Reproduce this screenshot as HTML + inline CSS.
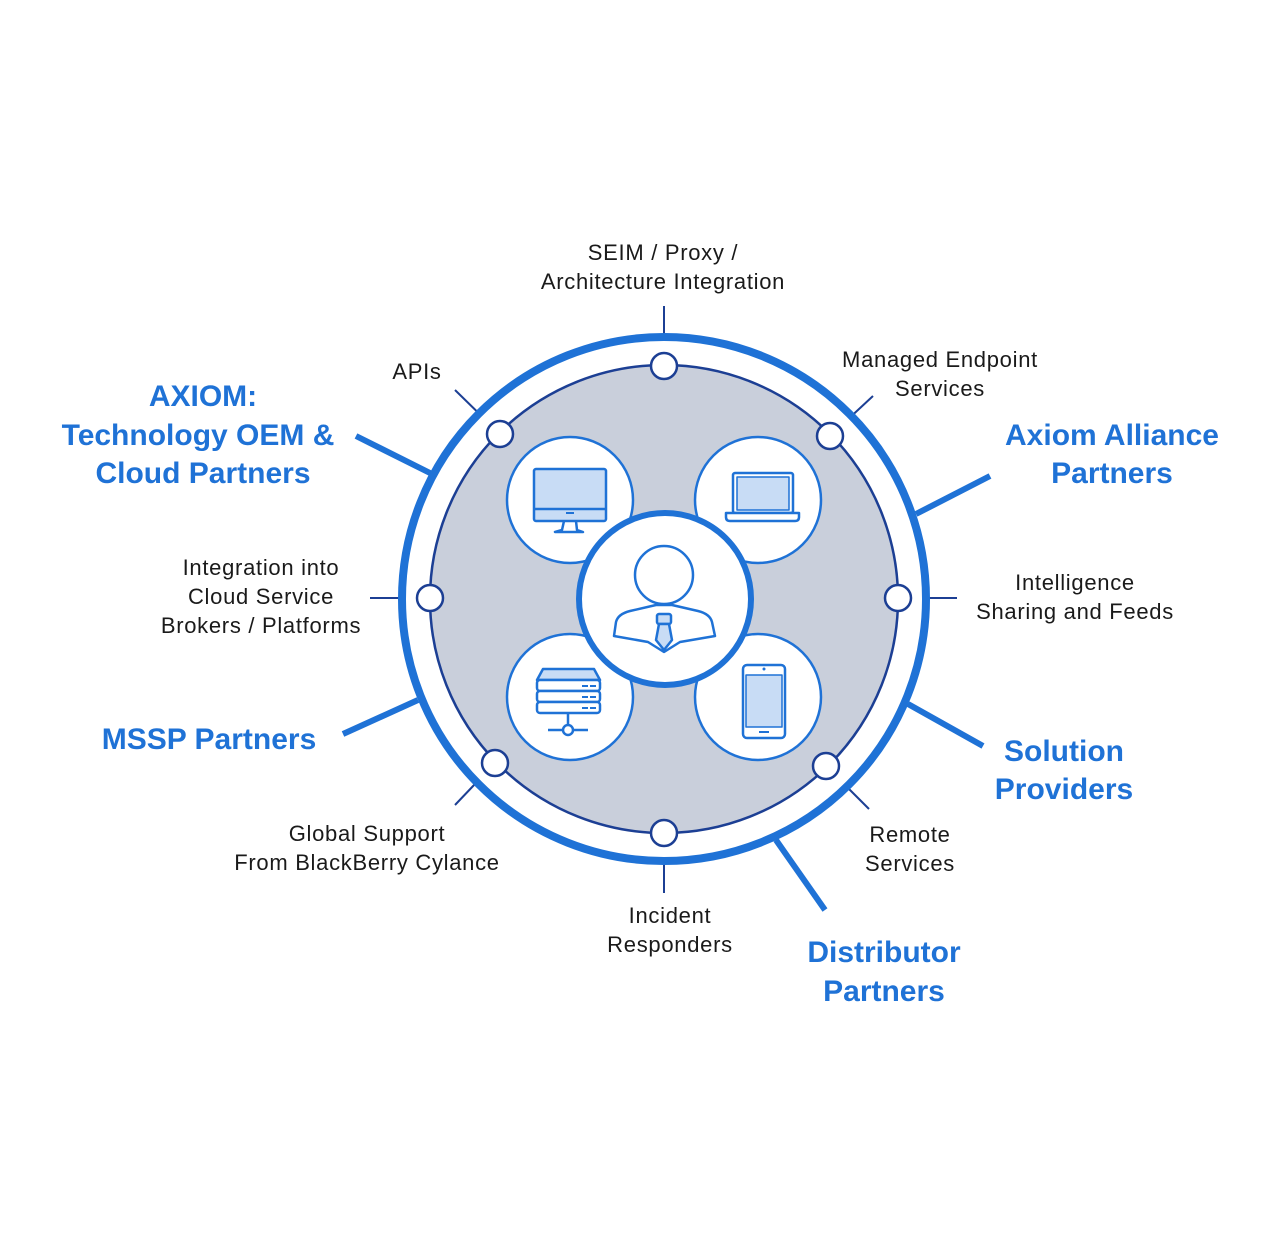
<!DOCTYPE html>
<html><head><meta charset="utf-8"><style>
body{margin:0;background:#fff}
svg{display:block}
text{font-family:"Liberation Sans",Arial,sans-serif}
.s{font-size:22px;fill:#1a1a1a;letter-spacing:0.7px}
.b{font-size:30px;font-weight:bold;fill:#1f72d6}
</style></head><body>
<svg width="1280" height="1253" viewBox="0 0 1280 1253">
<g stroke="#1f72d6" stroke-width="6" stroke-linecap="butt">
<line x1="356" y1="436" x2="432" y2="474"/>
<line x1="990" y1="476" x2="916" y2="514"/>
<line x1="983" y1="746" x2="908" y2="704"/>
<line x1="825" y1="910" x2="776" y2="840"/>
<line x1="343" y1="734" x2="418" y2="700"/>
</g>
<g stroke="#1c3f94" stroke-width="2">
<line x1="664" y1="306" x2="664" y2="366"/>
<line x1="455" y1="390" x2="500" y2="434"/>
<line x1="873" y1="396" x2="830" y2="436"/>
<line x1="370" y1="598" x2="430" y2="598"/>
<line x1="898" y1="598" x2="957" y2="598"/>
<line x1="826" y1="766" x2="869" y2="809"/>
<line x1="664" y1="833" x2="664" y2="893"/>
<line x1="495" y1="763" x2="455" y2="805"/>
</g>
<circle cx="664" cy="599" r="262" fill="#fff" stroke="#1f72d6" stroke-width="8"/>
<circle cx="664" cy="599" r="234" fill="#c9cfdb" stroke="#1c3f94" stroke-width="2.5"/>
<g fill="#fff" stroke="#1f72d6" stroke-width="2.5">
<circle cx="570" cy="500" r="63"/><circle cx="758" cy="500" r="63"/>
<circle cx="570" cy="697" r="63"/><circle cx="758" cy="697" r="63"/>
</g>
<circle cx="665" cy="599" r="86" fill="#fff" stroke="#1f72d6" stroke-width="6"/>
<g fill="#fff" stroke="#1c3f94" stroke-width="2.5">
<circle cx="664" cy="366" r="13"/><circle cx="830" cy="436" r="13"/>
<circle cx="898" cy="598" r="13"/><circle cx="826" cy="766" r="13"/>
<circle cx="664" cy="833" r="13"/><circle cx="495" cy="763" r="13"/>
<circle cx="430" cy="598" r="13"/><circle cx="500" cy="434" r="13"/>
</g>
<g stroke="#1f72d6" stroke-width="2.5" fill="#c8dcf5" stroke-linejoin="round">
<rect x="534" y="469" width="72" height="52" rx="2"/>
<line x1="534" y1="509" x2="606" y2="509"/>
<path d="M564 521 L562 530 L555 532 L583 532 L577 530 L576 521" fill="none"/>
<rect x="733" y="473" width="60" height="40" rx="2" fill="#fff"/>
<rect x="737" y="477" width="52" height="33" fill="#c8dcf5" stroke-width="1.5"/>
<path d="M726 513 H799 V517 Q799 521 795 521 H730 Q726 521 726 517 Z" fill="#fff"/>
<circle cx="664" cy="575" r="29" fill="#fff"/>
<path d="M614 636 L616 622 Q618 614 630 611 L656 605 L672 605 L698 611 Q710 614 712 622 L715 636 L680 642 L664 652 L648 642 Z" fill="#fff"/>
<rect x="657" y="614" width="14" height="10" rx="2"/>
<path d="M659 624 L656 640 L664 650 L672 640 L669 624 Z"/>
<path d="M537 680 L543 669 L594 669 L600 680 Z"/>
<rect x="537" y="680" width="63" height="11" rx="3" fill="#fff"/>
<rect x="537" y="691" width="63" height="11" rx="3" fill="#fff"/>
<rect x="537" y="702" width="63" height="11" rx="3" fill="#fff"/>
<line x1="568" y1="713" x2="568" y2="725"/>
<line x1="548" y1="730" x2="588" y2="730"/>
<circle cx="568" cy="730" r="5" fill="#fff"/>
<rect x="743" y="665" width="42" height="73" rx="4" fill="#fff"/>
<rect x="746" y="675" width="36" height="52" fill="#c8dcf5" stroke-width="1.5"/>
</g>
<g fill="#1f72d6">
<rect x="582" y="685" width="6" height="2"/><rect x="590" y="685" width="6" height="2"/>
<rect x="582" y="696" width="6" height="2"/><rect x="590" y="696" width="6" height="2"/>
<rect x="582" y="707" width="6" height="2"/><rect x="590" y="707" width="6" height="2"/>
<rect x="566" y="512" width="8" height="2"/>
<circle cx="764" cy="669" r="1.5"/><rect x="759" y="731" width="10" height="2"/>
</g>
<g class="s" text-anchor="middle">
<text x="663" y="260">SEIM / Proxy /</text>
<text x="663" y="289">Architecture Integration</text>
<text x="417" y="379">APIs</text>
<text x="940" y="367">Managed Endpoint</text>
<text x="940" y="396">Services</text>
<text x="261" y="575">Integration into</text>
<text x="261" y="604">Cloud Service</text>
<text x="261" y="633">Brokers / Platforms</text>
<text x="1075" y="590">Intelligence</text>
<text x="1075" y="619">Sharing and Feeds</text>
<text x="367" y="841">Global Support</text>
<text x="367" y="870">From BlackBerry Cylance</text>
<text x="910" y="842">Remote</text>
<text x="910" y="871">Services</text>
<text x="670" y="923">Incident</text>
<text x="670" y="952">Responders</text>
</g>
<g class="b" text-anchor="middle">
<text x="203" y="406">AXIOM:</text>
<text x="198" y="445">Technology OEM &amp;</text>
<text x="203" y="483">Cloud Partners</text>
<text x="1112" y="445">Axiom Alliance</text>
<text x="1112" y="483">Partners</text>
<text x="209" y="749">MSSP Partners</text>
<text x="1064" y="761">Solution</text>
<text x="1064" y="799">Providers</text>
<text x="884" y="962">Distributor</text>
<text x="884" y="1001">Partners</text>
</g>
</svg>
</body></html>
